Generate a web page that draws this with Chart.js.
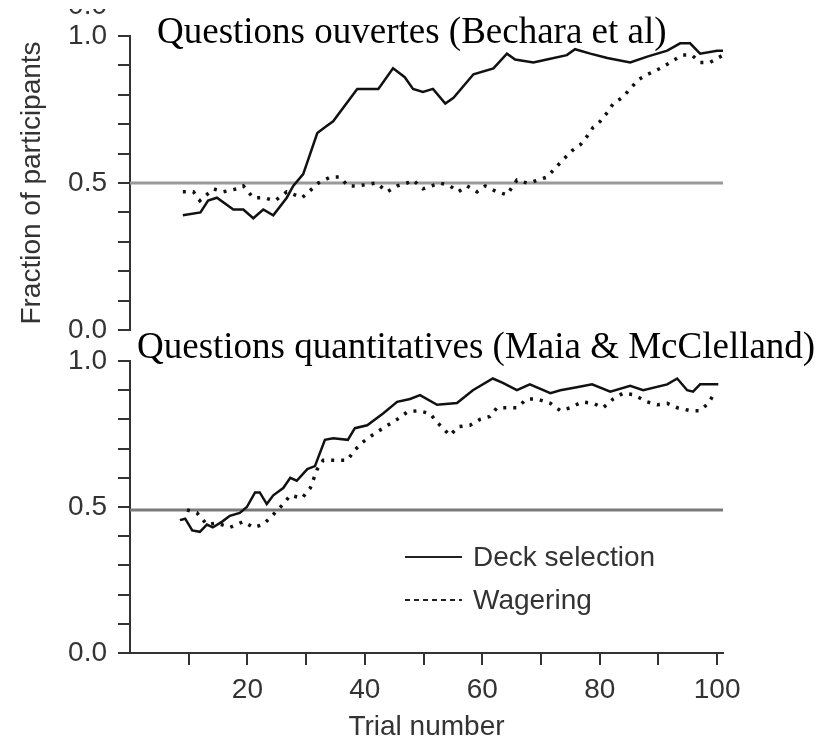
<!DOCTYPE html>
<html>
<head>
<meta charset="utf-8">
<script src="https://cdn.jsdelivr.net/npm/chart.js@4.4.0/dist/chart.umd.min.js"></script>
<style>
  html, body { margin: 0; padding: 0; background: #fff; }
  #wrap { position: relative; width: 840px; height: 744px; }
  canvas { position: absolute; left: 0; top: 0; }
</style>
</head>
<body>
<div id="wrap">
  <canvas id="topChart" width="840" height="744"></canvas>
  <canvas id="bottomChart" width="840" height="744"></canvas>
</div>
<script>
// top panel: open questions (Bechara et al)
const topDeckTrials = [9, 12, 13.3, 14.8, 17.6, 19.3, 21, 22.7, 24.4, 26.7, 27.8, 29.5, 31.9, 33.2, 34.6, 38.7, 42.3, 44.8, 46.8, 48.2, 49.9, 51.6, 53.7, 55.1, 58.5, 61.9, 64.2, 65.6, 68.7, 71, 74.4, 75.8, 78.4, 81.3, 85.2, 88.1, 91.5, 93.7, 95.4, 97.1, 100, 101];
const topDeckValues = [0.39, 0.40, 0.44, 0.45, 0.41, 0.41, 0.38, 0.41, 0.39, 0.45, 0.49, 0.53, 0.67, 0.69, 0.71, 0.82, 0.82, 0.89, 0.86, 0.82, 0.81, 0.82, 0.77, 0.79, 0.87, 0.89, 0.94, 0.92, 0.91, 0.92, 0.935, 0.955, 0.94, 0.925, 0.91, 0.93, 0.95, 0.975, 0.975, 0.94, 0.95, 0.95];
const topWagerTrials = [9, 10.8, 11.9, 14.2, 15.9, 18.2, 19.3, 21, 22.7, 24.7, 26.7, 29.3, 31, 32.1, 34.1, 35.8, 37.1, 38.8, 42, 43.8, 45.5, 47.2, 48.2, 49.9, 52.8, 54.5, 55.9, 57.4, 59.1, 60.5, 62.5, 64.2, 65.9, 67.6, 68.7, 71, 72.4, 73.8, 75.3, 76.7, 77.9, 78.9, 80.1, 81.3, 82.3, 83.8, 85.2, 86.5, 88.2, 90.3, 92, 94, 95.7, 97.1, 98.8, 101];
const topWagerValues = [0.47, 0.47, 0.44, 0.48, 0.47, 0.48, 0.49, 0.45, 0.45, 0.44, 0.47, 0.45, 0.48, 0.50, 0.52, 0.52, 0.49, 0.49, 0.50, 0.47, 0.49, 0.50, 0.51, 0.48, 0.50, 0.49, 0.47, 0.49, 0.47, 0.49, 0.47, 0.46, 0.51, 0.50, 0.505, 0.52, 0.55, 0.58, 0.61, 0.63, 0.66, 0.69, 0.71, 0.74, 0.77, 0.79, 0.82, 0.85, 0.87, 0.89, 0.91, 0.935, 0.935, 0.91, 0.91, 0.935];

// bottom panel: quantitative questions (Maia & McClelland)
const botDeckTrials = [8.5, 9.4, 10.6, 11.9, 13.1, 14.1, 15.7, 17, 18.7, 19.9, 21.3, 22.1, 23.3, 24.4, 26.1, 27.3, 28.4, 30.2, 31.5, 33.2, 34.6, 37.1, 38.3, 40.4, 43.1, 45.5, 47.7, 49.4, 52.3, 55.7, 58.4, 61.8, 63.5, 65.9, 68.1, 71.6, 73.3, 76.1, 78.7, 81.8, 85.2, 87.4, 91.5, 93.2, 94.9, 95.9, 97.1, 100.2];
const botDeckValues = [0.455, 0.46, 0.42, 0.415, 0.44, 0.43, 0.45, 0.47, 0.48, 0.50, 0.55, 0.55, 0.51, 0.54, 0.565, 0.60, 0.59, 0.63, 0.64, 0.73, 0.735, 0.73, 0.77, 0.78, 0.82, 0.86, 0.87, 0.883, 0.85, 0.856, 0.90, 0.94, 0.925, 0.90, 0.92, 0.89, 0.90, 0.91, 0.92, 0.895, 0.915, 0.90, 0.92, 0.94, 0.90, 0.895, 0.92, 0.92];
const botWagerTrials = [9.7, 11.4, 13.1, 14.8, 17, 19.3, 21, 22.7, 24.7, 26.1, 27.3, 29.3, 30.7, 31.9, 32.9, 37, 38.3, 39.5, 41.2, 43.1, 45.5, 47.2, 49.1, 51.1, 52.3, 53.3, 54.5, 55.9, 57.9, 59.6, 61.3, 62.5, 64.2, 65.9, 67.6, 69.3, 71.6, 73.3, 75, 77, 78.9, 80.6, 82.3, 84, 85.7, 88.1, 89.8, 91.5, 93.2, 95.4, 97.1, 98.5, 99.7];
const botWagerValues = [0.49, 0.48, 0.44, 0.445, 0.43, 0.45, 0.43, 0.44, 0.48, 0.51, 0.54, 0.53, 0.565, 0.63, 0.66, 0.66, 0.695, 0.72, 0.745, 0.77, 0.80, 0.825, 0.83, 0.82, 0.79, 0.77, 0.745, 0.775, 0.78, 0.80, 0.81, 0.84, 0.84, 0.84, 0.87, 0.87, 0.855, 0.83, 0.84, 0.86, 0.855, 0.84, 0.87, 0.89, 0.885, 0.86, 0.85, 0.855, 0.84, 0.83, 0.83, 0.855, 0.895];

const chanceTrials = [0, 101];
const topChance = [0.5, 0.5];
const botChance = [0.49, 0.49];

const seriesNames = ['Deck selection', 'Wagering'];
const panelTitles = ['Questions ouvertes (Bechara et al)', 'Questions quantitatives (Maia & McClelland)'];

const pts = (xs, ys) => xs.map((x, i) => ({ x: x, y: ys[i] }));

Chart.defaults.font.family = '"Liberation Sans", Arial, sans-serif';
Chart.defaults.color = '#333';

const sansFont = { family: '"Liberation Sans", Arial, sans-serif', size: 28 };

// panel title + optional legend, drawn on top of the chart
const panelDecor = {
  id: 'panelDecor',
  afterDraw(chart, args, opts) {
    const c = chart.ctx;
    c.save();
    c.fillStyle = '#000';
    c.font = '37px "Liberation Serif", "Times New Roman", serif';
    c.textAlign = 'left';
    c.textBaseline = 'alphabetic';
    c.fillText(opts.title, opts.titleX, opts.titleY);

    if (opts.cutLabel) {
      // bottom half of the 0.0 label of the panel above, cut by the page edge
      c.save();
      c.beginPath();
      c.rect(0, 9, 125, 14);
      c.clip();
      c.fillStyle = '#333';
      c.font = '28px "Liberation Sans", Arial, sans-serif';
      c.textAlign = 'right';
      c.textBaseline = 'middle';
      c.fillText('0.0', 107, 6);
      c.restore();
    }

    if (opts.legend) {
      const lg = opts.legend;
      chart.data.datasets.forEach((ds, i) => {
        if (!ds.label) return;
        const y = lg.y + i * lg.rowGap;
        c.strokeStyle = '#222';
        c.lineWidth = 2;
        c.setLineDash(i === 0 ? [] : [5, 4]);
        c.beginPath();
        c.moveTo(lg.x, y);
        c.lineTo(lg.x + lg.sample, y);
        c.stroke();
        c.setLineDash([]);
        c.fillStyle = '#333';
        c.font = '28px "Liberation Sans", Arial, sans-serif';
        c.textAlign = 'left';
        c.textBaseline = 'middle';
        c.fillText(ds.label, lg.x + lg.sample + 11, y + 1);
      });
    }
    c.restore();
  }
};

function yAxis(withTitle) {
  return {
    min: 0, max: 1,
    afterFit: s => { s.width = 130; },
    border: { color: '#333', width: 2 },
    grid: { drawOnChartArea: false, drawTicks: true, tickLength: 12, color: '#333', lineWidth: 2 },
    ticks: {
      stepSize: 0.1, padding: 11, color: '#333', font: sansFont, autoSkip: false,
      callback: v => (Math.round(v * 10) % 5 === 0 ? v.toFixed(1) : '')
    },
    title: {
      display: withTitle, text: 'Fraction of participants', color: '#333',
      font: sansFont, padding: { top: 15, bottom: 0 }
    }
  };
}

function datasets(deck, wager, chance, chanceColor) {
  return [
    { label: seriesNames[0], data: deck, borderColor: '#111', borderWidth: 2.5, pointRadius: 0, tension: 0 },
    { label: seriesNames[1], data: wager, borderColor: '#111', borderWidth: 3.5, borderDash: [3, 7], pointRadius: 0, tension: 0 },
    { label: '', data: chance, borderColor: chanceColor, borderWidth: 3, pointRadius: 0 }
  ];
}

new Chart(document.getElementById('topChart'), {
  type: 'line',
  data: { datasets: datasets(pts(topDeckTrials, topDeckValues), pts(topWagerTrials, topWagerValues), pts(chanceTrials, topChance), '#9a9a9a') },
  options: {
    responsive: false, animation: false,
    layout: { padding: { left: 0, right: 117, top: 36, bottom: 414 } },
    plugins: {
      legend: { display: false }, tooltip: { enabled: false },
      panelDecor: { title: panelTitles[0], titleX: 157, titleY: 43, cutLabel: true }
    },
    scales: {
      x: { type: 'linear', min: 0, max: 101, display: false },
      y: yAxis(true)
    }
  },
  plugins: [panelDecor]
});

new Chart(document.getElementById('bottomChart'), {
  type: 'line',
  data: { datasets: datasets(pts(botDeckTrials, botDeckValues), pts(botWagerTrials, botWagerValues), pts(chanceTrials, botChance), '#7a7a7a') },
  options: {
    responsive: false, animation: false,
    layout: { padding: { left: 0, right: 117, top: 361, bottom: 0 } },
    plugins: {
      legend: { display: false }, tooltip: { enabled: false },
      panelDecor: { title: panelTitles[1], titleX: 137, titleY: 358, legend: { x: 405, y: 557, rowGap: 43, sample: 57 } }
    },
    scales: {
      x: {
        type: 'linear', min: 0, max: 101,
        afterFit: s => { s.height = 91; },
        border: { color: '#333', width: 2 },
        grid: {
          drawOnChartArea: false, tickLength: 12, lineWidth: 2,
          color: ctx => (ctx.tick && ctx.tick.value === 0 ? 'rgba(0,0,0,0)' : '#333')
        },
        ticks: {
          stepSize: 10, includeBounds: false, autoSkip: false, maxRotation: 0, padding: 8,
          color: '#333', font: sansFont,
          callback: v => (v > 0 && v % 20 === 0 ? String(v) : '')
        },
        title: { display: true, text: 'Trial number', color: '#333', font: sansFont, padding: { top: 0, bottom: 0 } }
      },
      y: yAxis(false)
    }
  },
  plugins: [panelDecor]
});
</script>
</body>
</html>
